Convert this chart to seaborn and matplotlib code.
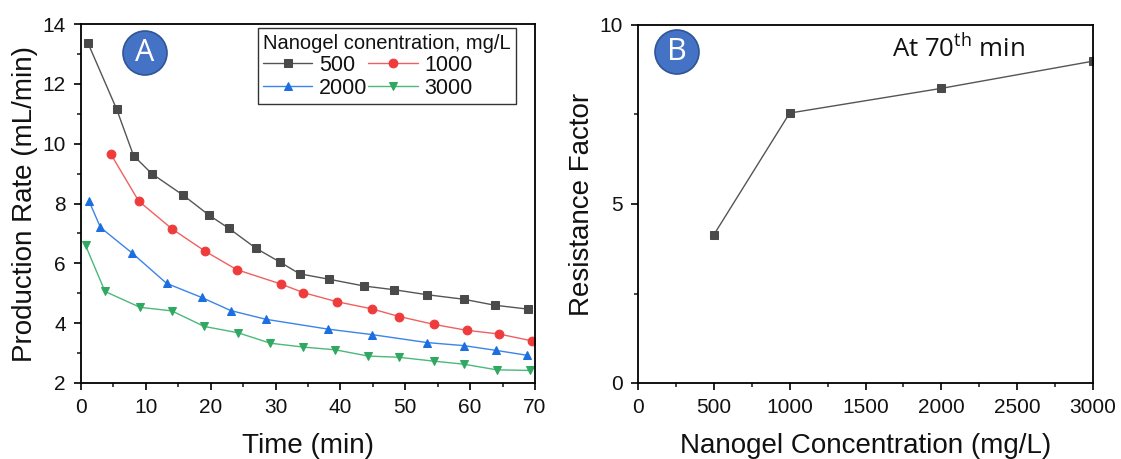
import numpy as np
import pandas as pd
import matplotlib
matplotlib.use("Agg")
import matplotlib.pyplot as plt
import seaborn as sns
from matplotlib.patches import Circle

# ---------------- data ----------------
t_500 = [1.1, 5.5, 8.1, 10.9, 15.8, 19.8, 22.8, 27.0, 30.7, 33.7, 38.2, 43.7, 48.2, 53.4, 59.0, 63.8, 68.9]
q_500 = [13.35, 11.15, 9.6, 9.0, 8.27, 7.6, 7.17, 6.5, 6.04, 5.65, 5.47, 5.24, 5.12, 4.95, 4.8, 4.6, 4.47]

t_1000 = [4.6, 8.9, 14.1, 19.1, 24.0, 30.8, 34.3, 39.4, 44.8, 49.1, 54.4, 59.5, 64.4, 69.5]
q_1000 = [9.65, 8.08, 7.14, 6.41, 5.79, 5.31, 5.02, 4.72, 4.48, 4.22, 3.96, 3.76, 3.64, 3.41]

t_2000 = [1.2, 3.0, 7.9, 13.2, 18.6, 23.1, 28.5, 38.1, 44.8, 53.4, 59.0, 64.0, 68.7]
q_2000 = [8.1, 7.2, 6.34, 5.33, 4.86, 4.42, 4.13, 3.8, 3.62, 3.35, 3.25, 3.09, 2.93]

t_3000 = [0.7, 3.7, 9.1, 14.0, 19.0, 24.2, 29.2, 34.3, 39.2, 44.3, 49.0, 54.4, 59.0, 64.1, 69.2]
q_3000 = [6.6, 5.06, 4.53, 4.41, 3.89, 3.68, 3.33, 3.2, 3.11, 2.9, 2.86, 2.73, 2.63, 2.44, 2.42]

conc = [500, 1000, 2000, 3000]
resistance = [4.14, 7.54, 8.23, 8.99]

series_labels = ["500", "1000", "2000", "3000"]
legend_title = "Nanogel conentration, mg/L"

# ---------------- style ----------------
sns.set_theme(style="ticks")
plt.rcParams["font.family"] = ["Liberation Sans", "DejaVu Sans"]
plt.rcParams["mathtext.fontset"] = "custom"
plt.rcParams["mathtext.rm"] = "Open Sans"
plt.rcParams["axes.linewidth"] = 1.3
plt.rcParams["text.color"] = "#111111"
plt.rcParams["axes.labelcolor"] = "#111111"

colors = {"500": "#4a4a4a", "1000": "#ee3b3b", "2000": "#1d6fe0", "3000": "#30a862"}
line_colors = {"500": "#555555", "1000": "#f06060", "2000": "#3a84ea", "3000": "#4cb87a"}
markers = {"500": "s", "1000": "o", "2000": "^", "3000": "v"}

fig = plt.figure(figsize=(11.21, 4.59), dpi=100)
axA = fig.add_axes([81/1121, 1-383/459, (535-81)/1121, (383-24)/459])
axB = fig.add_axes([638/1121, 1-383/459, (1093-638)/1121, (383-25)/459])

data_sets = [(t_500, q_500), (t_1000, q_1000), (t_2000, q_2000), (t_3000, q_3000)]
for lab, (tx, qy) in zip(series_labels, data_sets):
    df = pd.DataFrame({"t": tx, "q": qy})
    sns.lineplot(data=df, x="t", y="q", ax=axA, color=line_colors[lab], lw=1.0,
                 marker=markers[lab], markersize=6.3, markerfacecolor=colors[lab],
                 markeredgecolor=colors[lab], label=lab, legend=True)

h, l = axA.get_legend_handles_labels()
order = [0, 2, 1, 3]
leg = axA.legend([h[i] for i in order], [l[i] for i in order], title=legend_title,
                 ncol=2, loc="upper right", bbox_to_anchor=(0.958, 0.988),
                 fontsize=15.5, title_fontsize=14.5, frameon=True, fancybox=False,
                 edgecolor="black", handlelength=2.3, handletextpad=0.3,
                 columnspacing=0.05, labelspacing=0.1, borderpad=0.25,
                 alignment="left", borderaxespad=0.0)
leg.get_frame().set_linewidth(1.0)

axA.set_xlim(0, 70)
axA.set_ylim(2, 14)
axA.set_xticks(np.arange(0, 71, 10))
axA.set_xticks(np.arange(5, 70, 10), minor=True)
axA.set_yticks(np.arange(2, 15, 2))
axA.set_yticks(np.arange(3, 14, 2), minor=True)
axA.set_xlabel("Time (min)", fontsize=20, labelpad=11)
axA.set_ylabel("Production Rate (mL/min)", fontsize=20, labelpad=3)

sns.lineplot(x=conc, y=resistance, ax=axB, color="#555555", lw=1.0, marker="s",
             markersize=6.3, markerfacecolor="#4a4a4a", markeredgecolor="#4a4a4a")
axB.set_xlim(0, 3000)
axB.set_ylim(0, 10)
axB.set_xticks(np.arange(0, 3001, 500))
axB.set_xticks(np.arange(250, 3000, 500), minor=True)
axB.set_yticks([0, 5, 10])
axB.set_yticks([2.5, 7.5], minor=True)
axB.set_xlabel("Nanogel Concentration (mg/L)", fontsize=20, labelpad=11)
axB.set_ylabel("Resistance Factor", fontsize=20, labelpad=3)
axB.text(2110, 9.33, r"At 70$^{\mathrm{th}}$ min", fontsize=18.5, ha="center", va="center",
         family=["Open Sans", "DejaVu Sans"], color="#111111")

for ax in (axA, axB):
    for s in ax.spines.values():
        s.set_visible(True)
        s.set_color("black")
        s.set_linewidth(1.3)
    ax.tick_params(axis="both", which="major", direction="out", length=5, width=1.2,
                   labelsize=15, colors="black", labelcolor="#111111", pad=6,
                   top=False, right=False)
    ax.tick_params(axis="both", which="minor", direction="out", length=3, width=1.2,
                   top=False, right=False)
    ax.grid(False)

# panel badges
for (cx, cy, letter) in [(145, 53, "A"), (677, 52, "B")]:
    fx, fy = cx/1121, 1-cy/459
    circ = Circle((cx, 459-cy), 22, transform=None, facecolor="#4472c4",
                  edgecolor="#2f5597", lw=1.2, zorder=10)
    fig.patches.append(circ)
    fig.text(fx, fy, letter, ha="center", va="center", fontsize=22, color="white",
             family=["Open Sans", "DejaVu Sans"], zorder=11)

fig.savefig("out.png", dpi=100)
